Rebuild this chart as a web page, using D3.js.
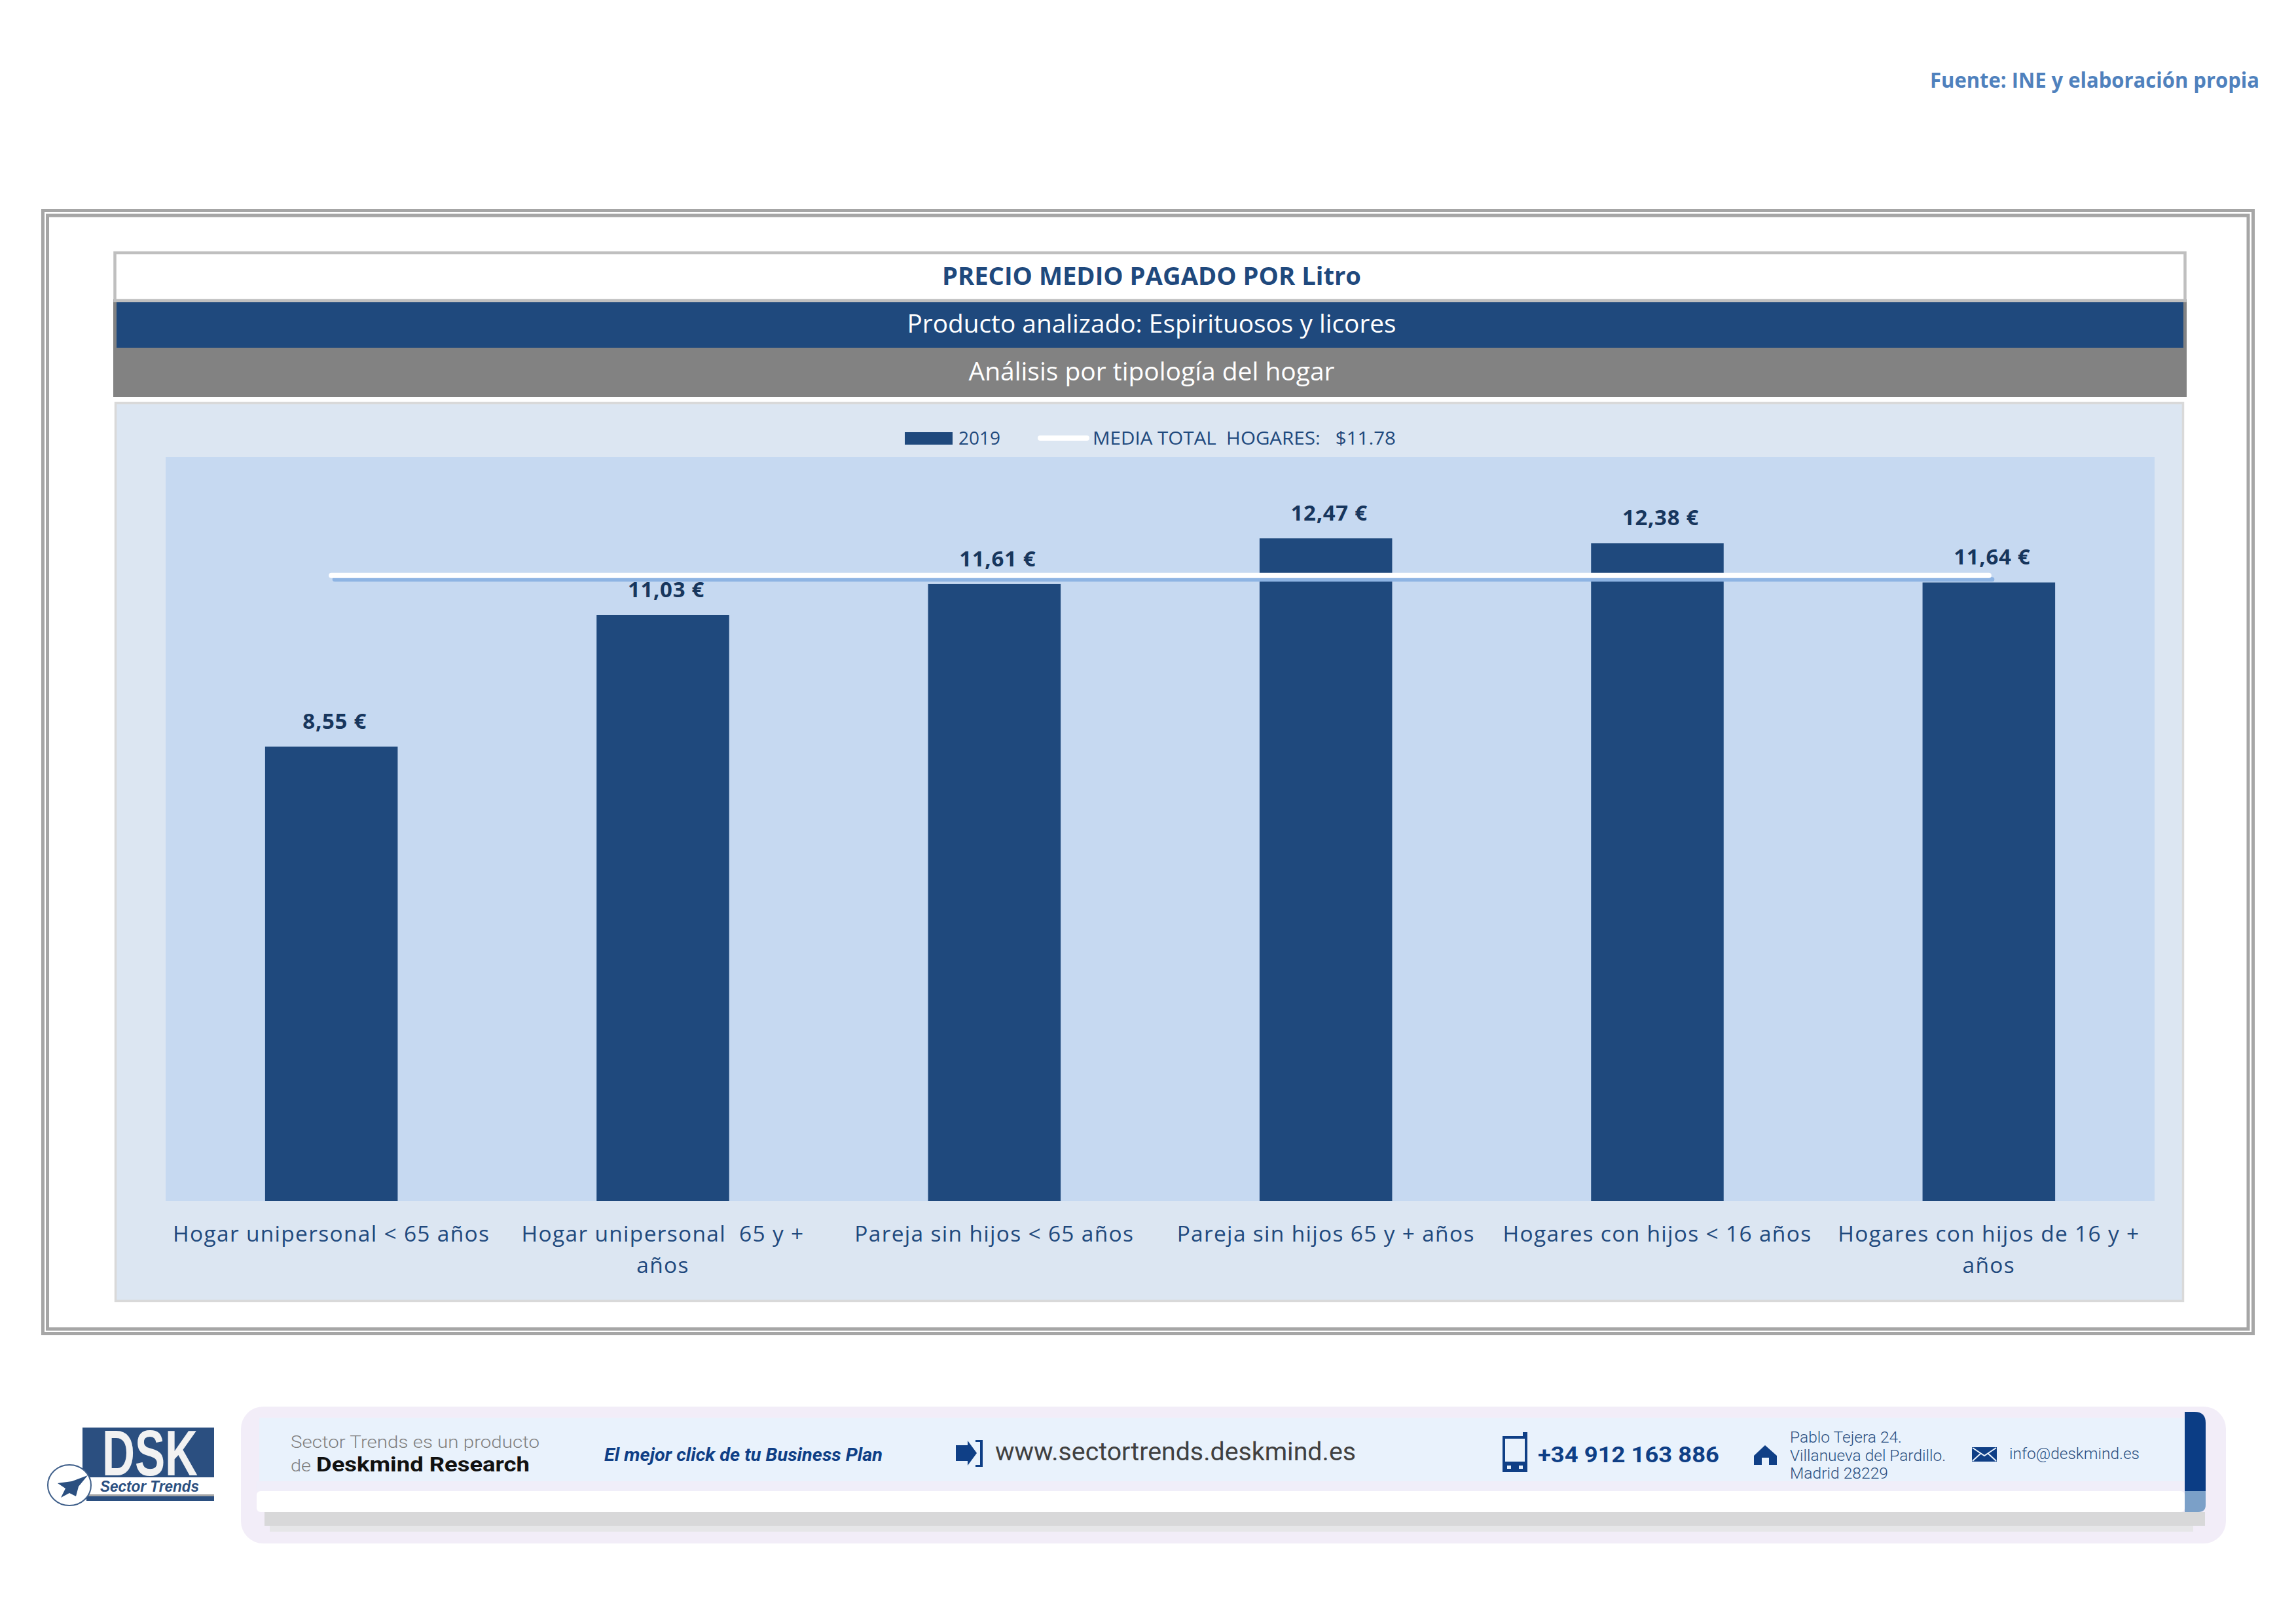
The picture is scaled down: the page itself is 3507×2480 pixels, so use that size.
<!DOCTYPE html>
<html lang="es"><head><meta charset="utf-8">
<script src="https://cdn.jsdelivr.net/npm/d3@7"></script>
<style>html,body{margin:0;padding:0;background:#fff}svg{display:block}text{white-space:pre}</style>
</head><body><svg id="c" width="3507" height="2480" xmlns="http://www.w3.org/2000/svg"></svg>
<script>
const categories = ["Hogar unipersonal < 65 años","Hogar unipersonal  65 y + años","Pareja sin hijos < 65 años","Pareja sin hijos 65 y + años","Hogares con hijos < 16 años","Hogares con hijos de 16 y + años"];
const values2019 = [8.55,11.03,11.61,12.47,12.38,11.64];
const mediaTotal = [11.78,11.78,11.78,11.78,11.78,11.78];
const seriesNames = ["2019","MEDIA TOTAL  HOGARES:   $11.78"];
const titleText = "PRECIO MEDIO PAGADO POR Litro";
const subtitleText = "Producto analizado: Espirituosos y licores";
const analysisText = "Análisis por tipología del hogar";
const sourceText = "Fuente: INE y elaboración propia";
const yDomain = [0,14];

const FONT = "'Open Sans','Noto Sans',sans-serif", FOOT = "Roboto,'Liberation Sans',sans-serif";
const NAVY="#1f497d";
const svg = d3.select("#c");
const rect=(x0,y0,x1,y1,fill,extra={})=>{const r=svg.append("rect").attr("x",x0).attr("y",y0).attr("width",x1-x0).attr("height",y1-y0).attr("fill",fill);Object.entries(extra).forEach(([k,v])=>r.attr(k,v));return r;};
const label=(s,x,y,o={})=>{const t=svg.append("text").attr("x",x).attr("y",y).attr("font-family",o.family||FONT).attr("font-size",o.size||30).attr("font-weight",o.weight||400).attr("fill",o.fill||NAVY).attr("text-anchor",o.anchor||"start").text(s);
 if(o.style)t.attr("font-style",o.style);
 if(o.width)t.attr("textLength",o.width).attr("lengthAdjust","spacingAndGlyphs");return t;};

rect(0,0,3507,2480,"#fff");
label(sourceText,2948,134,{size:33,weight:700,fill:"#4f81bd",width:503});

// double page frame
rect(65.5,321.5,3441.5,2036.5,"none",{stroke:"#a6a6a6","stroke-width":5});
rect(72.5,329,3434,2029.5,"none",{stroke:"#a6a6a6","stroke-width":5});

// header bands
rect(173,457,3340,606,"#828282");
rect(178,461,3335,531,NAVY);
rect(175.5,386,3337.5,459,"#fff",{stroke:"#bfbfbf","stroke-width":4.5});
label(titleText,1759,435,{size:38,weight:700,anchor:"middle",width:640});
label(subtitleText,1759,508,{size:38,fill:"#fff",anchor:"middle",width:747});
label(analysisText,1759,581,{size:38,fill:"#fff",anchor:"middle",width:559});

// chart panel
rect(176.5,615.5,3334.5,1986.5,"#dce6f2",{stroke:"#d9d9d9","stroke-width":3.5});
const plot={l:253,r:3291,t:698,b:1834};
rect(plot.l,plot.t,plot.r,plot.b,"#c6d9f1");

const x=d3.scaleBand().domain(categories).range([plot.l,plot.r]).paddingInner(0.6).paddingOuter(0.3);
const y=d3.scaleLinear().domain(yDomain).range([plot.b,plot.t]);

svg.append("g").selectAll("rect").data(values2019).join("rect")
 .attr("x",(d,i)=>x(categories[i])).attr("y",d=>y(d)).attr("width",x.bandwidth()).attr("height",d=>y(0)-y(d)).attr("fill",NAVY);

// mean line with its soft offset shadow
const line=d3.line().x((d,i)=>x(categories[i])+x.bandwidth()/2).y(d=>y(d));
svg.append("path").attr("d",line(mediaTotal)).attr("transform","translate(5,6.5)").attr("fill","none").attr("stroke","#8eb4e3").attr("stroke-width",7).attr("stroke-linecap","round");
svg.append("path").attr("d",line(mediaTotal)).attr("transform","translate(0,0.5)").attr("fill","none").attr("stroke","#fff").attr("stroke-width",8).attr("stroke-linecap","round");

// value labels
const euro=d3.format(".2f");
svg.append("g").selectAll("text").data(values2019).join("text")
 .attr("x",(d,i)=>x(categories[i])+x.bandwidth()/2+5).attr("y",d=>y(d)-27)
 .attr("text-anchor","middle").attr("font-family",FONT).attr("font-size",33).attr("font-weight",700).attr("letter-spacing",0.7).attr("fill","#17365d")
 .text(d=>euro(d).replace(".",",")+" €");

// category axis
const axis=svg.append("g").attr("transform",`translate(0,${plot.b})`).call(d3.axisBottom(x).tickSize(0).tickPadding(0));
axis.select(".domain").remove();
axis.selectAll("text").attr("font-family",FONT).attr("font-size",33.5).attr("letter-spacing",1.3).attr("fill",NAVY).attr("dy",0).attr("y",0)
 .each(function(d){
   const t=d3.select(this);const words=d.split(" ");t.text(null);
   let cur="",lines=[];const probe=t.append("tspan");
   words.forEach(w=>{const next=cur===""&&lines.length===0&&w===""?w:(cur+(cur||w===""?" ":"")+w);probe.text(next);
     if(probe.node().getComputedTextLength()>500&&cur){lines.push(cur);cur=w;}else cur=next;});
   lines.push(cur);probe.remove();
   lines.forEach((l,i)=>t.append("tspan").attr("x",0).attr("y",62+i*48).text(l));
 });

// legend
rect(1382,660,1455,679,NAVY);
label(seriesNames[0],1464,679,{size:28,width:64});
svg.append("line").attr("x1",1589).attr("x2",1660).attr("y1",669).attr("y2",669).attr("stroke","#fff").attr("stroke-width",8).attr("stroke-linecap","round");
label(seriesNames[1],1669,679,{size:28,width:463});

// ---------- footer strip ----------
rect(368,2148,3400,2357,"#f2edf8",{rx:34});
rect(396,2165,3337,2262,"#e9f2fc");
rect(392,2262,3337,2277,"#f0eef9");
rect(404,2309,3368,2330,"#d8d8d9");
rect(412,2330,3350,2339,"#e6e6e8");
rect(392,2277,3337,2309,"#fff",{rx:6});
svg.append("path").attr("d","M3337 2156H3352Q3369 2156 3369 2173V2277H3337Z").attr("fill","#0b3d85");
svg.append("path").attr("d","M3337 2277H3369V2298Q3369 2309 3358 2309H3337Z").attr("fill","#7ba0c8");

// logo
rect(126,2180,327,2256,"#2b4f80");
label("DSK",156,2253,{family:"'Liberation Sans',sans-serif",size:98,weight:700,fill:"#f2f2f2",width:146});
rect(132,2285,327,2292,"#2b4f80");
rect(132,2282,327,2285,"#a6a6a6");
label("Sector Trends",153,2278,{family:"'Liberation Sans',sans-serif",size:24,weight:700,style:"italic",fill:"#2b4f80",width:151});
svg.append("ellipse").attr("cx",106).attr("cy",2268).attr("rx",33).attr("ry",31).attr("fill","#fff").attr("stroke","#3f5f8a").attr("stroke-width",2);
svg.append("path").attr("d","M134 2253L110 2262L88 2265L100 2273L93 2287L106 2280L116 2285L120 2270Z").attr("fill","#2b4f80");

// strip texts
label("Sector Trends es un producto",444,2211,{family:FOOT,size:26,fill:"#7f7f7f",width:380,weight:300});
label("de",444,2247,{family:FOOT,size:26,fill:"#7f7f7f",width:31,weight:300});
label("Deskmind Research",483,2247,{family:FOOT,size:32,weight:700,fill:"#111",width:326});
label("El mejor click de tu Business Plan",923,2231,{family:FOOT,size:27,weight:700,style:"italic",fill:"#0f3f86",width:425});
label("www.sectortrends.deskmind.es",1520,2230,{family:FOOT,size:38,fill:"#404040",width:551});
label("+34 912 163 886",2349,2233,{family:FOOT,size:33,weight:700,fill:"#0f3f86",width:277});
label("Pablo Tejera 24.",2734,2203,{family:FOOT,size:23,fill:"#2b4f80",width:171,weight:300});
label("Villanueva del Pardillo.",2734,2231,{family:FOOT,size:23,fill:"#2b4f80",width:238,weight:300});
label("Madrid 28229",2734,2258,{family:FOOT,size:23,fill:"#2b4f80",width:150,weight:300});
label("info@deskmind.es",3069,2228,{family:FOOT,size:24,fill:"#2b4f80",width:199,weight:300});

// icons
svg.append("path").attr("d","M1460 2207L1478 2207L1478 2200L1492 2219L1478 2238L1478 2231L1460 2231Z").attr("fill","#0f3f86");
svg.append("path").attr("d","M1490 2199H1501V2240H1490V2237H1497V2202H1490Z").attr("fill","#0f3f86");
rect(2297,2195,2331,2246,"none",{stroke:"#0f3f86","stroke-width":4});
rect(2295,2232,2333,2248,"#0f3f86");
rect(2326,2187,2333,2197,"#0f3f86");
rect(2302,2238,2308,2243,"#e9f2fc");rect(2320,2238,2326,2243,"#e9f2fc");
svg.append("path").attr("d","M2696 2207L2714 2223V2237H2702V2226H2691V2237H2679V2223Z").attr("fill","#0f3f86");
rect(3012,2210,3050,2232,"#0f3f86");
svg.append("path").attr("d","M3013 2211L3031 2223L3049 2211M3013 2231L3026 2219M3049 2231L3036 2219").attr("fill","none").attr("stroke","#e9f2fc").attr("stroke-width",2);
</script></body></html>
